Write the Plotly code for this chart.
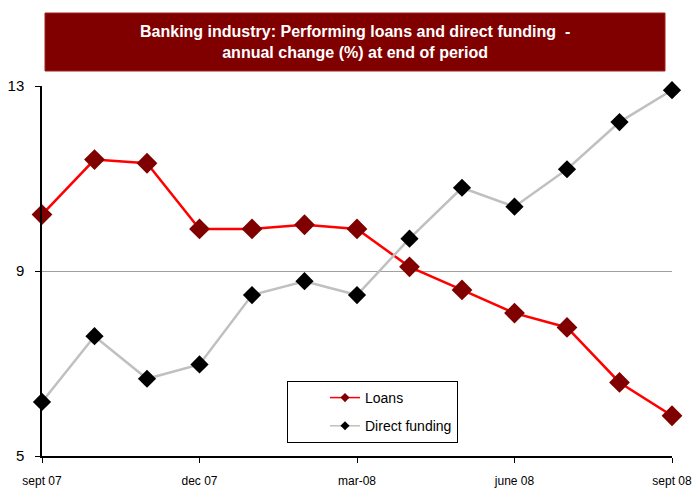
import plotly.graph_objects as go

# Monthly observations, Sept 2007 to Sept 2008
months = ["sept 07", "oct 07", "nov 07", "dec 07", "jan 08", "feb 08", "mar-08",
          "apr 08", "may 08", "june 08", "jul 08", "aug 08", "sept 08"]
loans = [10.22, 11.41, 11.33, 9.91, 9.91, 10.0, 9.91, 9.09, 8.59, 8.09, 7.78, 6.59, 5.87]
direct_funding = [6.17, 7.59, 6.67, 6.98, 8.48, 8.78, 8.48, 9.70, 10.80, 10.39, 11.20, 12.22, 12.91]
tick_labels = ["sept 07", "dec 07", "mar-08", "june 08", "sept 08"]
y_ticks = [5, 9, 13]

x_idx = list(range(len(months)))
tick_pos = [months.index(t) for t in tick_labels]

FONT = "Arial, Liberation Sans, sans-serif"

series = [
    ("Loans", loans, "#FF0000", "#800000", 16),
    ("Direct funding", direct_funding, "#C0C0C0", "#000000", 14),
]

fig = go.Figure()
for i, (name, vals, line_col, mark_col, msize) in enumerate(series):
    fig.add_trace(go.Scatter(
        x=x_idx, y=vals, name=name, mode="lines+markers",
        line=dict(color=line_col, width=2.5),
        marker=dict(symbol="diamond", size=msize, color=mark_col),
        cliponaxis=False, showlegend=False,
    ))
    # legend key with a thin line and small marker
    fig.add_trace(go.Scatter(
        x=[None], y=[None], name=name, mode="lines+markers",
        line=dict(color=line_col, width=1.5),
        marker=dict(symbol="diamond", size=7, color=mark_col),
        legendgroup=f"g{i}",
    ))

# Title banner
fig.add_shape(type="rect", xref="paper", yref="paper",
              x0=3/630, x1=623/630, y0=(456-71)/370, y1=(456-13)/370,
              fillcolor="#800000", line=dict(color="#A02020", width=1), layer="above")
fig.add_annotation(xref="paper", yref="paper", x=313/630, y=(456-42)/370,
                   text="Banking industry: Performing loans and direct funding  -<br>annual change (%) at end of period",
                   showarrow=False, font=dict(family=FONT, size=16, color="white", weight="bold"),
                   align="center", xanchor="center", yanchor="middle")

fig.update_layout(
    width=692, height=488,
    margin=dict(l=42, r=20, t=86, b=32, autoexpand=False),
    paper_bgcolor="white", plot_bgcolor="white",
    font=dict(family=FONT, size=13, color="black"),
    showlegend=True,
    legend=dict(x=(287-42)/630, y=(456-381)/370, xanchor="left", yanchor="top",
                bordercolor="black", borderwidth=1, bgcolor="white",
                font=dict(family=FONT, size=14), indentation=37,
                tracegroupgap=7, entrywidth=146),
    xaxis=dict(range=[0, 12], tickvals=tick_pos, ticktext=tick_labels, automargin=False,
               showgrid=False, zeroline=False, showline=True, linecolor="black", linewidth=1.5,
               ticks="outside", ticklen=5, tickcolor="black", tickfont=dict(size=12),
               ticklabelstandoff=8, ticklabeloverflow="allow"),
    yaxis=dict(range=[5, 13], tickvals=y_ticks, showgrid=True, gridcolor="#A0A0A0", gridwidth=1,
               zeroline=False, showline=True, linecolor="black", linewidth=1.5, automargin=False,
               ticks="outside", ticklen=5, tickcolor="black", tickfont=dict(size=15),
               ticklabelstandoff=8),
)

fig.write_html("out.html")
